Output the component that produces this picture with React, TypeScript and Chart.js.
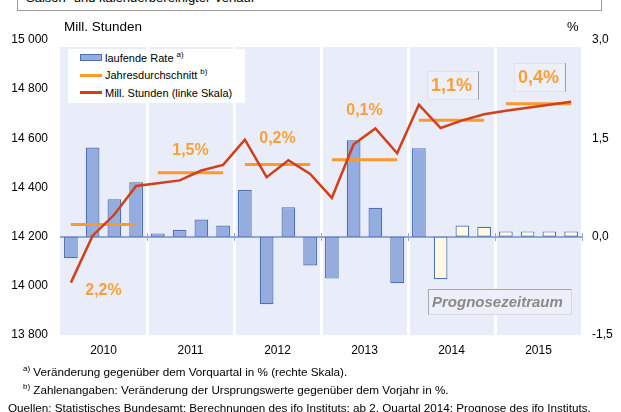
import { useEffect, useRef } from 'react';
import { Chart, registerables } from 'chart.js';

Chart.register(...registerables);

const FONT = "Arial, 'Liberation Sans', sans-serif";

const years = ['2010', '2011', '2012', '2013', '2014', '2015'];
const quarters = years.flatMap((y) => ['Q1', 'Q2', 'Q3', 'Q4'].map((q) => `${y} ${q}`));

// laufende Rate, % gegenüber Vorquartal (rechte Skala)
const rateQoQ = [
  -0.33, 1.36, 0.57, 0.83,
  0.05, 0.1, 0.26, 0.17,
  0.71, -1.03, 0.45, -0.44,
  -0.64, 1.47, 0.44, -0.71,
  1.35, -0.65, 0.17, 0.15,
  0.08, 0.08, 0.08, 0.08,
];

// Mill. Stunden (linke Skala)
const hoursMill = [
  14013, 14204, 14290, 14406,
  14417, 14429, 14469, 14492,
  14595, 14442, 14511, 14455,
  14358, 14576, 14640, 14539,
  14737, 14642, 14673, 14698,
  14712, 14724, 14737, 14749,
];

// Jahresdurchschnitt (Mill. Stunden)
const annualAvg = [14250, 14460, 14494, 14513, 14674, 14741];
// Veränderung gegenüber Vorjahr
const annualGrowth = ['2,2%', '1,5%', '0,2%', '0,1%', '1,1%', '0,4%'];

const forecastStart = 17; // ab 2. Quartal 2014

const leftTicks = [13800, 14000, 14200, 14400, 14600, 14800, 15000];
const rightTicks = [-1.5, 0, 1.5, 3.0];

// annotation label anchor (left-scale units) and whether boxed
const growthLabelY = [13983, 14554, 14602, 14715, 14816, 14848];
const growthBoxed = [false, false, false, false, true, true];

const avgSeries = quarters.map((_, i) => annualAvg[Math.floor(i / 4)]);

export default function App() {
  const ref = useRef<HTMLCanvasElement>(null);

  useEffect(() => {
    const canvas = ref.current;
    if (!canvas) return;

    const plugin = {
      id: 'decor',
      beforeDraw(chart: any) {
        const { ctx, chartArea: a } = chart;
        ctx.save();
        ctx.fillStyle = '#e9edf9';
        ctx.fillRect(a.left, a.top + 7, a.right - a.left, a.bottom - a.top - 7);
        ctx.restore();
      },
      beforeDatasetsDraw(chart: any) {
        const { ctx, chartArea: a } = chart;
        const yR = chart.scales.yR;
        const y0 = Math.round(yR.getPixelForValue(0));
        ctx.save();
        ctx.strokeStyle = '#8ea8db';
        ctx.lineWidth = 2;
        ctx.beginPath();
        ctx.moveTo(a.left, y0);
        ctx.lineTo(a.right, y0);
        ctx.stroke();
        ctx.lineWidth = 1;
        const w = (a.right - a.left) / years.length;
        for (let i = 1; i <= years.length; i++) {
          const x = Math.round(a.left + i * w) + 0.5;
          ctx.beginPath();
          ctx.moveTo(x, y0 - 4);
          ctx.lineTo(x, y0 + 4);
          ctx.stroke();
        }
        ctx.restore();
      },
      afterDatasetsDraw(chart: any) {
        const { ctx, chartArea: a } = chart;
        const yL = chart.scales.yL;
        const xY = chart.scales.x2;
        ctx.save();
        ctx.textAlign = 'center';
        ctx.textBaseline = 'middle';
        annualGrowth.forEach((t, i) => {
          const cx = xY.getPixelForValue(i);
          const cy = yL.getPixelForValue(growthLabelY[i]);
          if (growthBoxed[i]) {
            const l = Math.round(cx - 25), r = Math.round(cx + 26), tp = Math.round(cy - 14), b = Math.round(cy + 14);
            ctx.fillStyle = '#edf0fa';
            ctx.fillRect(l, tp, r - l, b - tp);
            ctx.strokeStyle = '#e0e2ea';
            ctx.lineWidth = 1;
            ctx.strokeRect(l + 0.5, tp + 0.5, r - l, b - tp);
            ctx.strokeStyle = '#a0a0a0';
            ctx.beginPath();
            ctx.moveTo(r + 0.5, tp);
            ctx.lineTo(r + 0.5, b + 0.5);
            ctx.stroke();
            ctx.font = `bold 18px ${FONT}`;
          } else {
            ctx.font = `bold 16px ${FONT}`;
          }
          ctx.fillStyle = '#f7a03a';
          ctx.fillText(t, cx, cy + 1);
        });
        // Prognosezeitraum box
        const qw = (a.right - a.left) / quarters.length;
        const bl = Math.round(a.left + 16.9 * qw);
        const br = Math.round(a.left + 23.5 * qw);
        const bt = Math.round(yL.getPixelForValue(13987));
        const bb = Math.round(yL.getPixelForValue(13885));
        ctx.fillStyle = '#edf0fa';
        ctx.fillRect(bl, bt, br - bl, bb - bt);
        ctx.lineWidth = 1;
        ctx.strokeStyle = '#d8dae2';
        ctx.strokeRect(bl + 0.5, bt + 0.5, br - bl, bb - bt);
        ctx.strokeStyle = '#a8a8a8';
        ctx.beginPath();
        ctx.moveTo(bl + 0.5, bb + 0.5);
        ctx.lineTo(bl + 0.5, bt + 0.5);
        ctx.lineTo(br + 0.5, bt + 0.5);
        ctx.stroke();
        ctx.font = `italic bold 15px ${FONT}`;
        ctx.textAlign = 'left';
        ctx.fillStyle = '#8a8a8a';
        ctx.fillText('Prognosezeitraum', bl + 4, (bt + bb) / 2 + 1);
        ctx.restore();
      },
    };

    const chart = new Chart(canvas, {
      data: {
        labels: quarters,
        datasets: [
          {
            type: 'line',
            label: 'Mill. Stunden (linke Skala)',
            data: hoursMill,
            xAxisID: 'x',
            yAxisID: 'yL',
            borderColor: '#d2401a',
            borderWidth: 2.5,
            pointRadius: 0,
            tension: 0,
            order: 1,
          },
          {
            type: 'line',
            label: 'Jahresdurchschnitt',
            data: avgSeries,
            xAxisID: 'x',
            yAxisID: 'yL',
            borderColor: '#f79b2c',
            borderWidth: 3,
            pointRadius: 0,
            tension: 0,
            order: 2,
            segment: {
              borderColor: (c: any) =>
                Math.floor(c.p0DataIndex / 4) !== Math.floor(c.p1DataIndex / 4) ? 'rgba(0,0,0,0)' : '#f79b2c',
            },
          },
          {
            type: 'bar',
            label: 'laufende Rate',
            data: rateQoQ,
            xAxisID: 'x',
            yAxisID: 'yR',
            backgroundColor: rateQoQ.map((_, i) => (i >= forecastStart ? '#fffbe3' : '#95acdf')),
            borderColor: '#4f70b5',
            borderWidth: 1.2,
            borderSkipped: false,
            barPercentage: 0.63,
            categoryPercentage: 1,
            order: 3,
          },
        ],
      } as any,
      options: {
        responsive: false,
        animation: false,
        devicePixelRatio: 1,
        layout: { padding: { top: 40, left: 0, right: 0, bottom: 0 } },
        plugins: { legend: { display: false }, tooltip: { enabled: false } },
        scales: {
          x: { type: 'category', display: false, offset: true },
          x2: {
            type: 'category',
            labels: years,
            position: 'bottom',
            offset: true,
            grid: {
              offset: true,
              drawTicks: false,
              tickLength: 0,
              lineWidth: 3,
              color: (c: any) => (c.index === 0 || c.index === years.length ? 'rgba(0,0,0,0)' : '#ffffff'),
            },
            border: { display: false },
            ticks: { color: '#000', font: { family: FONT, size: 12 }, padding: 8, maxRotation: 0 },
            afterFit: (s: any) => { s.height = 77; },
          },
          yL: {
            type: 'linear',
            position: 'left',
            min: 13800,
            max: 15000,
            afterBuildTicks: (s: any) => { s.ticks = leftTicks.map((v) => ({ value: v })); },
            grid: { display: false, drawTicks: false, tickLength: 0 },
            border: { display: false },
            ticks: {
              color: '#000',
              font: { family: FONT, size: 12 },
              padding: 12,
              callback: (v: any) => String(v).replace(/\B(?=(\d{3})+(?!\d))/g, ' '),
            },
            afterFit: (s: any) => { s.width = 60; },
          },
          yR: {
            type: 'linear',
            position: 'right',
            min: -1.5,
            max: 3.0,
            afterBuildTicks: (s: any) => { s.ticks = rightTicks.map((v) => ({ value: v })); },
            grid: { display: false, drawTicks: false, tickLength: 0 },
            border: { display: false },
            ticks: {
              color: '#000',
              font: { family: FONT, size: 12 },
              padding: 10,
              callback: (v: any) => Number(v).toFixed(1).replace('.', ','),
            },
            afterFit: (s: any) => { s.width = 39; },
          },
        },
      } as any,
      plugins: [plugin],
    });

    return () => chart.destroy();
  }, []);

  const sup = { fontSize: 8, verticalAlign: 'super', lineHeight: 0 } as const;

  return (
    <div
      style={{
        position: 'fixed',
        left: 0,
        top: 0,
        width: 621,
        height: 412,
        background: '#fff',
        fontFamily: FONT,
        color: '#000',
        overflow: 'hidden',
      }}
    >
      {/* header box, partly cut off */}
      <div
        style={{
          position: 'absolute',
          left: 17,
          top: -2,
          width: 583,
          height: 12,
          borderLeft: '1px solid #9a9a9a',
          borderRight: '1px solid #9a9a9a',
          borderBottom: '1px solid #9a9a9a',
          overflow: 'hidden',
        }}
      >
        <div style={{ position: 'absolute', left: 8, top: -8, fontSize: 13, whiteSpace: 'nowrap' }}>
          Saison- und kalenderbereinigter Verlauf
        </div>
      </div>

      <canvas ref={ref} width={621} height={412} style={{ position: 'absolute', left: 0, top: 0, width: 621, height: 412 }} />

      <div style={{ position: 'absolute', left: 64, top: 19, fontSize: 13.5, whiteSpace: 'nowrap' }}>Mill. Stunden</div>
      <div style={{ position: 'absolute', left: 567, top: 19, fontSize: 13 }}>%</div>

      {/* legend */}
      <div
        style={{
          position: 'absolute',
          left: 68,
          top: 49,
          width: 177,
          height: 54,
          background: '#fff',
          fontSize: 11,
        }}
      >
        {[
          { label: 'laufende Rate', sup: 'a)', kind: 'box' },
          { label: 'Jahresdurchschnitt', sup: 'b)', kind: 'orange' },
          { label: 'Mill. Stunden (linke Skala)', sup: '', kind: 'red' },
        ].map((e, i) => (
          <div key={i} style={{ position: 'absolute', left: 12, top: 1 + i * 17.5, height: 15, display: 'flex', alignItems: 'center', whiteSpace: 'nowrap' }}>
            {e.kind === 'box' ? (
              <span style={{ display: 'inline-block', width: 20, height: 5, background: '#95acdf', border: '1px solid #4f70b5', marginRight: 3 }} />
            ) : (
              <span style={{ display: 'inline-block', width: 22, height: 3, background: e.kind === 'orange' ? '#f79b2c' : '#d2401a', marginRight: 3 }} />
            )}
            <span>
              {e.label}
              {e.sup ? <span style={{ ...sup, marginLeft: 3 }}>{e.sup}</span> : null}
            </span>
          </div>
        ))}
      </div>

      {/* footnotes */}
      <div style={{ position: 'absolute', left: 23, top: 365, fontSize: 11.7, whiteSpace: 'nowrap' }}>
        <span style={sup}>a)</span> Veränderung gegenüber dem Vorquartal in % (rechte Skala).
      </div>
      <div style={{ position: 'absolute', left: 23, top: 383, fontSize: 11.7, whiteSpace: 'nowrap' }}>
        <span style={sup}>b)</span> Zahlenangaben: Veränderung der Ursprungswerte gegenüber dem Vorjahr in %.
      </div>
      <div style={{ position: 'absolute', left: 8, top: 401, fontSize: 11.7, whiteSpace: 'nowrap' }}>
        Quellen: Statistisches Bundesamt; Berechnungen des ifo Instituts; ab 2. Quartal 2014: Prognose des ifo Instituts.
      </div>
    </div>
  );
}
